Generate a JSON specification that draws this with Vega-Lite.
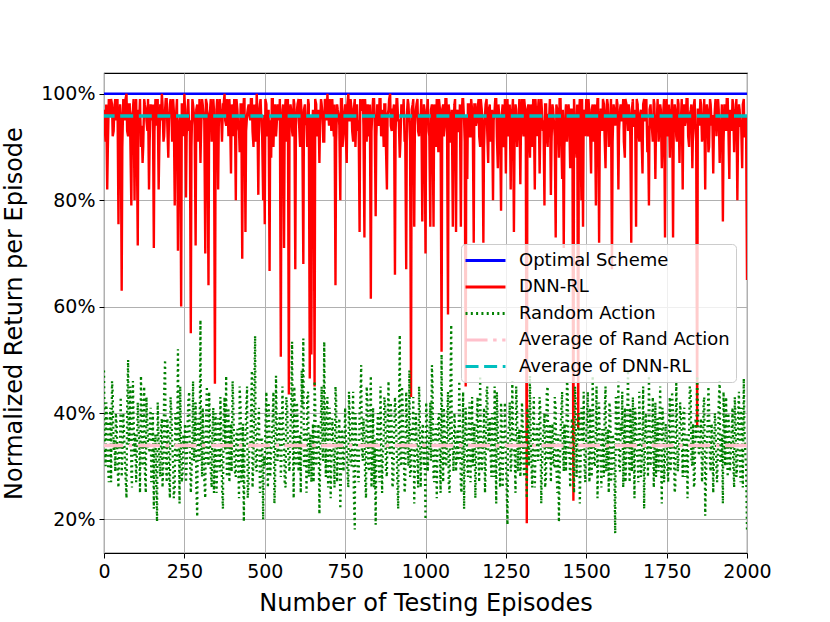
{
  "$schema": "https://vega.github.io/schema/vega-lite/v6.json",
  "width": 643,
  "height": 480,
  "autosize": {"type": "none"},
  "padding": {"left": 104, "top": 73, "right": 83, "bottom": 69},
  "background": "white",
  "datasets": {
    "flat": [
      {"s": "Optimal Scheme", "v": 100},
      {"s": "Average of Rand Action", "v": 33.9},
      {"s": "Average of DNN-RL", "v": 95.8}
    ],
    "curves": [
      {"e":0,"d":97,"r":48},{"e":5,"d":91,"r":30},{"e":10,"d":82,"r":38},{"e":15,"d":99,"r":27},{"e":20,"d":96,"r":41},{"e":25,"d":98,"r":46},{"e":30,"d":93,"r":33},{"e":35,"d":99,"r":29},{"e":40,"d":97,"r":37},{"e":45,"d":75.5,"r":26},
      {"e":50,"d":98,"r":35},{"e":55,"d":63,"r":28},{"e":60,"d":99,"r":40},{"e":65,"d":95,"r":31},{"e":70,"d":100,"r":24},{"e":75,"d":92,"r":50},{"e":80,"d":98,"r":37},{"e":85,"d":79,"r":29},{"e":90,"d":97,"r":46},{"e":95,"d":80,"r":32},
      {"e":100,"d":99,"r":27},{"e":105,"d":71.5,"r":42},{"e":110,"d":96,"r":34},{"e":115,"d":90,"r":47},{"e":120,"d":87,"r":30},{"e":125,"d":99,"r":45},{"e":130,"d":97,"r":25},{"e":135,"d":93,"r":38},{"e":140,"d":82,"r":33},{"e":145,"d":98,"r":41},
      {"e":150,"d":95,"r":29},{"e":155,"d":71,"r":22},{"e":160,"d":99,"r":36},{"e":165,"d":94,"r":19.6},{"e":170,"d":82,"r":35},{"e":175,"d":98,"r":28},{"e":180,"d":100,"r":39},{"e":185,"d":91,"r":31},{"e":190,"d":97,"r":50},{"e":195,"d":99,"r":27},
      {"e":200,"d":88,"r":36},{"e":205,"d":98,"r":24},{"e":210,"d":96,"r":40},{"e":215,"d":99,"r":30},{"e":220,"d":79,"r":26},{"e":225,"d":97,"r":37},{"e":230,"d":70.5,"r":52},{"e":235,"d":95,"r":23},{"e":240,"d":60,"r":34},{"e":245,"d":98,"r":29},
      {"e":250,"d":100,"r":33},{"e":255,"d":80.5,"r":27},{"e":260,"d":97,"r":38},{"e":265,"d":93,"r":44},{"e":270,"d":55,"r":25},{"e":275,"d":99,"r":35},{"e":280,"d":96,"r":31},{"e":285,"d":71.5,"r":42},{"e":290,"d":98,"r":20.5},{"e":295,"d":92,"r":36},
      {"e":300,"d":87,"r":57.5},{"e":305,"d":99,"r":28},{"e":310,"d":96,"r":34},{"e":315,"d":70,"r":24},{"e":320,"d":98,"r":45},{"e":325,"d":64,"r":30},{"e":330,"d":97,"r":37},{"e":335,"d":91,"r":26},{"e":340,"d":99,"r":41},{"e":345,"d":45.5,"r":32},
      {"e":350,"d":97,"r":25},{"e":355,"d":82,"r":39},{"e":360,"d":99,"r":29},{"e":365,"d":95,"r":35},{"e":370,"d":98,"r":22},{"e":375,"d":100,"r":43},{"e":380,"d":94,"r":47},{"e":385,"d":97,"r":31},{"e":390,"d":99,"r":27},{"e":395,"d":85,"r":38},
      {"e":400,"d":96,"r":46},{"e":405,"d":99,"r":33},{"e":410,"d":80,"r":28},{"e":415,"d":97,"r":37},{"e":420,"d":93,"r":24},{"e":425,"d":98,"r":41},{"e":430,"d":69,"r":30},{"e":435,"d":99,"r":19.6},{"e":440,"d":74,"r":36},{"e":445,"d":96,"r":45},
      {"e":450,"d":98,"r":27},{"e":455,"d":95,"r":34},{"e":460,"d":99,"r":48},{"e":465,"d":90,"r":31},{"e":470,"d":97,"r":54.5},{"e":475,"d":100,"r":29},{"e":480,"d":81,"r":38},{"e":485,"d":98,"r":25},{"e":490,"d":94,"r":35},{"e":495,"d":80,"r":20},
      {"e":500,"d":75.5,"r":30},{"e":505,"d":98,"r":44},{"e":510,"d":96,"r":26},{"e":515,"d":66.7,"r":36},{"e":520,"d":88,"r":33},{"e":525,"d":99,"r":40},{"e":530,"d":97,"r":23},{"e":535,"d":92,"r":47},{"e":540,"d":98,"r":31},{"e":545,"d":95,"r":38},
      {"e":550,"d":50.6,"r":28},{"e":555,"d":97,"r":45},{"e":560,"d":71,"r":35},{"e":565,"d":99,"r":26},{"e":570,"d":95,"r":41},{"e":575,"d":43.5,"r":30},{"e":580,"d":98,"r":37},{"e":585,"d":93,"r":53.4},{"e":590,"d":99,"r":24},{"e":595,"d":67,"r":34},
      {"e":600,"d":97,"r":42},{"e":605,"d":99,"r":29},{"e":610,"d":90,"r":36},{"e":615,"d":96,"r":48},{"e":620,"d":68,"r":54},{"e":625,"d":98,"r":31},{"e":630,"d":94,"r":25},{"e":635,"d":99,"r":44},{"e":640,"d":46.5,"r":33},{"e":645,"d":51,"r":27},
      {"e":650,"d":97,"r":38},{"e":655,"d":45,"r":46},{"e":660,"d":98,"r":30},{"e":665,"d":95,"r":35},{"e":670,"d":87,"r":21},{"e":675,"d":99,"r":40},{"e":680,"d":96,"r":32},{"e":685,"d":91,"r":53.4},{"e":690,"d":98,"r":28},{"e":695,"d":100,"r":43},
      {"e":700,"d":94,"r":36},{"e":705,"d":97,"r":24},{"e":710,"d":99,"r":39},{"e":715,"d":92,"r":31},{"e":720,"d":64,"r":45},{"e":725,"d":98,"r":27},{"e":730,"d":96,"r":34},{"e":735,"d":80,"r":22},{"e":740,"d":99,"r":37},{"e":745,"d":93,"r":29},
      {"e":750,"d":98,"r":41},{"e":755,"d":87,"r":33},{"e":760,"d":100,"r":26},{"e":765,"d":95,"r":38},{"e":770,"d":97,"r":30},{"e":775,"d":91,"r":44},{"e":780,"d":99,"r":18.1},{"e":785,"d":96,"r":35},{"e":790,"d":93,"r":28},{"e":795,"d":74,"r":40},
      {"e":800,"d":97,"r":49},{"e":805,"d":99,"r":31},{"e":810,"d":73,"r":36},{"e":815,"d":95,"r":24},{"e":820,"d":98,"r":42},{"e":825,"d":92,"r":29},{"e":830,"d":61.5,"r":47},{"e":835,"d":97,"r":33},{"e":840,"d":99,"r":26},{"e":845,"d":77,"r":19},
      {"e":850,"d":98,"r":37},{"e":855,"d":94,"r":30},{"e":860,"d":99,"r":45},{"e":865,"d":96,"r":25},{"e":870,"d":90,"r":35},{"e":875,"d":98,"r":41},{"e":880,"d":82,"r":28},{"e":885,"d":97,"r":46},{"e":890,"d":100,"r":32},{"e":895,"d":93,"r":38},
      {"e":900,"d":97,"r":27},{"e":905,"d":66,"r":43},{"e":910,"d":99,"r":34},{"e":915,"d":95,"r":22},{"e":920,"d":88,"r":54.7},{"e":925,"d":98,"r":30},{"e":930,"d":96,"r":39},{"e":935,"d":91,"r":25},{"e":940,"d":67,"r":44},{"e":945,"d":99,"r":33},
      {"e":950,"d":94,"r":48},{"e":955,"d":43,"r":29},{"e":960,"d":98,"r":36},{"e":965,"d":75,"r":23},{"e":970,"d":97,"r":40},{"e":975,"d":99,"r":31},{"e":980,"d":92,"r":45},{"e":985,"d":96,"r":26},{"e":990,"d":76,"r":37},{"e":995,"d":98,"r":30},
      {"e":1000,"d":70,"r":20},{"e":1005,"d":97,"r":38},{"e":1010,"d":93,"r":33},{"e":1015,"d":75,"r":42},{"e":1020,"d":98,"r":49},{"e":1025,"d":75,"r":28},{"e":1030,"d":96,"r":35},{"e":1035,"d":99,"r":24},{"e":1040,"d":89,"r":39},{"e":1045,"d":97,"r":31},
      {"e":1050,"d":51.5,"r":51},{"e":1055,"d":98,"r":27},{"e":1060,"d":94,"r":36},{"e":1065,"d":99,"r":30},{"e":1070,"d":58.5,"r":44},{"e":1075,"d":96,"r":25},{"e":1080,"d":91,"r":56.6},{"e":1085,"d":75,"r":33},{"e":1090,"d":98,"r":40},{"e":1095,"d":74,"r":29},
      {"e":1100,"d":97,"r":37},{"e":1105,"d":93,"r":46},{"e":1110,"d":75,"r":26},{"e":1115,"d":99,"r":34},{"e":1120,"d":95,"r":22},{"e":1125,"d":45,"r":41},{"e":1130,"d":84,"r":30},{"e":1135,"d":98,"r":38},{"e":1140,"d":92,"r":27},{"e":1145,"d":97,"r":43},
      {"e":1150,"d":72,"r":35},{"e":1155,"d":98,"r":24},{"e":1160,"d":95,"r":40},{"e":1165,"d":99,"r":31},{"e":1170,"d":90,"r":47},{"e":1175,"d":97,"r":29},{"e":1180,"d":72,"r":36},{"e":1185,"d":96,"r":25},{"e":1190,"d":99,"r":44},{"e":1195,"d":87,"r":33},
      {"e":1200,"d":98,"r":39},{"e":1205,"d":93,"r":28},{"e":1210,"d":80,"r":34},{"e":1215,"d":97,"r":45},{"e":1220,"d":99,"r":23},{"e":1225,"d":86,"r":37},{"e":1230,"d":95,"r":30},{"e":1235,"d":78,"r":42},{"e":1240,"d":98,"r":26},{"e":1245,"d":91,"r":36},
      {"e":1250,"d":85,"r":31},{"e":1255,"d":99,"r":19},{"e":1260,"d":94,"r":38},{"e":1265,"d":82,"r":29},{"e":1270,"d":97,"r":46},{"e":1275,"d":74,"r":33},{"e":1280,"d":98,"r":25},{"e":1285,"d":90,"r":40},{"e":1290,"d":96,"r":35},{"e":1295,"d":83,"r":28},
      {"e":1300,"d":99,"r":42},{"e":1305,"d":92,"r":30},{"e":1310,"d":97,"r":37},{"e":1315,"d":19.3,"r":24},{"e":1320,"d":98,"r":34},{"e":1325,"d":88,"r":47},{"e":1330,"d":96,"r":29},{"e":1335,"d":99,"r":39},{"e":1340,"d":82,"r":26},{"e":1345,"d":95,"r":36},
      {"e":1350,"d":97,"r":31},{"e":1355,"d":85,"r":43},{"e":1360,"d":99,"r":23},{"e":1365,"d":93,"r":35},{"e":1370,"d":79,"r":40},{"e":1375,"d":98,"r":28},{"e":1380,"d":90,"r":45},{"e":1385,"d":96,"r":33},{"e":1390,"d":81,"r":27},{"e":1395,"d":98,"r":38},
      {"e":1400,"d":94,"r":30},{"e":1405,"d":73,"r":41},{"e":1410,"d":97,"r":25},{"e":1415,"d":88,"r":19.5},{"e":1420,"d":99,"r":36},{"e":1425,"d":84,"r":44},{"e":1430,"d":71,"r":29},{"e":1435,"d":96,"r":34},{"e":1440,"d":91,"r":46},{"e":1445,"d":98,"r":32},
      {"e":1450,"d":86,"r":26},{"e":1455,"d":97,"r":39},{"e":1460,"d":23.5,"r":31},{"e":1465,"d":95,"r":45},{"e":1470,"d":88,"r":28},{"e":1475,"d":37,"r":37},{"e":1480,"d":99,"r":23},{"e":1485,"d":80,"r":41},{"e":1490,"d":75,"r":33},{"e":1495,"d":97,"r":29},
      {"e":1500,"d":99,"r":36},{"e":1505,"d":92,"r":44},{"e":1510,"d":96,"r":27},{"e":1515,"d":85,"r":34},{"e":1520,"d":98,"r":47},{"e":1525,"d":94,"r":30},{"e":1530,"d":79,"r":38},{"e":1535,"d":99,"r":24},{"e":1540,"d":72,"r":42},{"e":1545,"d":97,"r":31},
      {"e":1550,"d":93,"r":37},{"e":1555,"d":98,"r":28},{"e":1560,"d":86,"r":45},{"e":1565,"d":99,"r":33},{"e":1570,"d":90,"r":25},{"e":1575,"d":96,"r":40},{"e":1580,"d":67,"r":30},{"e":1585,"d":98,"r":35},{"e":1590,"d":94,"r":17.4},{"e":1595,"d":99,"r":39},
      {"e":1600,"d":82,"r":46},{"e":1605,"d":97,"r":29},{"e":1610,"d":95,"r":36},{"e":1615,"d":99,"r":26},{"e":1620,"d":88,"r":41},{"e":1625,"d":98,"r":32},{"e":1630,"d":93,"r":48},{"e":1635,"d":96,"r":27},{"e":1640,"d":72,"r":35},{"e":1645,"d":99,"r":43},
      {"e":1650,"d":94,"r":24},{"e":1655,"d":75,"r":38},{"e":1660,"d":98,"r":31},{"e":1665,"d":91,"r":44},{"e":1670,"d":97,"r":28},{"e":1675,"d":85,"r":36},{"e":1680,"d":99,"r":22},{"e":1685,"d":95,"r":40},{"e":1690,"d":89,"r":33},{"e":1695,"d":79,"r":47},
      {"e":1700,"d":98,"r":30},{"e":1705,"d":93,"r":37},{"e":1710,"d":99,"r":26},{"e":1715,"d":84,"r":42},{"e":1720,"d":96,"r":34},{"e":1725,"d":91,"r":29},{"e":1730,"d":98,"r":45},{"e":1735,"d":86,"r":23},{"e":1740,"d":97,"r":38},{"e":1745,"d":73,"r":31},
      {"e":1750,"d":99,"r":36},{"e":1755,"d":94,"r":27},{"e":1760,"d":88,"r":43},{"e":1765,"d":97,"r":32},{"e":1770,"d":73,"r":40},{"e":1775,"d":98,"r":25},{"e":1780,"d":92,"r":46},{"e":1785,"d":99,"r":29},{"e":1790,"d":87,"r":35},{"e":1795,"d":96,"r":39},
      {"e":1800,"d":82,"r":28},{"e":1805,"d":98,"r":41},{"e":1810,"d":95,"r":33},{"e":1815,"d":99,"r":24},{"e":1820,"d":90,"r":37},{"e":1825,"d":97,"r":44},{"e":1830,"d":86,"r":30},{"e":1835,"d":98,"r":26},{"e":1840,"d":93,"r":39},{"e":1845,"d":37.3,"r":47},
      {"e":1850,"d":97,"r":32},{"e":1855,"d":99,"r":36},{"e":1860,"d":91,"r":27},{"e":1865,"d":96,"r":42},{"e":1870,"d":82,"r":20.7},{"e":1875,"d":98,"r":35},{"e":1880,"d":89,"r":45},{"e":1885,"d":99,"r":30},{"e":1890,"d":94,"r":38},{"e":1895,"d":85,"r":25},
      {"e":1900,"d":97,"r":40},{"e":1905,"d":92,"r":29},{"e":1910,"d":99,"r":34},{"e":1915,"d":87,"r":46},{"e":1920,"d":95,"r":31},{"e":1925,"d":76,"r":23},{"e":1930,"d":98,"r":37},{"e":1935,"d":93,"r":43},{"e":1940,"d":99,"r":28},{"e":1945,"d":84,"r":36},
      {"e":1950,"d":96,"r":33},{"e":1955,"d":99,"r":41},{"e":1960,"d":89,"r":26},{"e":1965,"d":97,"r":38},{"e":1970,"d":80,"r":30},{"e":1975,"d":98,"r":44},{"e":1980,"d":94,"r":27},{"e":1985,"d":86,"r":35},{"e":1990,"d":99,"r":46.5},{"e":1995,"d":92,"r":32},
      {"e":2000,"d":65,"r":18},
      {"e":2,"d":94,"r":36},{"e":7,"d":98,"r":42},{"e":12,"d":90,"r":31},{"e":17,"d":96,"r":38},{"e":22,"d":99,"r":27},{"e":27,"d":92,"r":44},{"e":32,"d":97,"r":35},{"e":37,"d":95,"r":40},{"e":42,"d":99,"r":30},{"e":47,"d":93,"r":33},
      {"e":52,"d":96,"r":43},{"e":57,"d":90,"r":32},{"e":62,"d":97,"r":37},{"e":67,"d":99,"r":28},{"e":72,"d":93,"r":41},{"e":77,"d":98,"r":34},{"e":82,"d":91,"r":45},{"e":87,"d":96,"r":26},{"e":92,"d":99,"r":39},{"e":97,"d":94,"r":36},
      {"e":102,"d":92,"r":31},{"e":107,"d":97,"r":38},{"e":112,"d":99,"r":25},{"e":117,"d":94,"r":40},{"e":122,"d":90,"r":36},{"e":127,"d":98,"r":29},{"e":132,"d":95,"r":43},{"e":137,"d":99,"r":33},{"e":142,"d":91,"r":37},{"e":147,"d":96,"r":27},
      {"e":152,"d":98,"r":40},{"e":157,"d":93,"r":34},{"e":162,"d":96,"r":28},{"e":167,"d":99,"r":42},{"e":172,"d":90,"r":31},{"e":177,"d":95,"r":37},{"e":182,"d":98,"r":26},{"e":187,"d":92,"r":44},{"e":192,"d":99,"r":33},{"e":197,"d":94,"r":39},
      {"e":202,"d":95,"r":29},{"e":207,"d":99,"r":43},{"e":212,"d":91,"r":35},{"e":217,"d":97,"r":24},{"e":222,"d":93,"r":40},{"e":227,"d":99,"r":31},{"e":232,"d":88,"r":38},{"e":237,"d":96,"r":45},{"e":242,"d":98,"r":27},{"e":247,"d":92,"r":36},
      {"e":252,"d":97,"r":38},{"e":257,"d":92,"r":30},{"e":262,"d":99,"r":42},{"e":267,"d":95,"r":33},{"e":272,"d":90,"r":28},{"e":277,"d":98,"r":46},{"e":282,"d":94,"r":34},{"e":287,"d":97,"r":26},{"e":292,"d":91,"r":39},{"e":297,"d":99,"r":31},
      {"e":302,"d":93,"r":35},{"e":307,"d":98,"r":41},{"e":312,"d":95,"r":27},{"e":317,"d":99,"r":38},{"e":322,"d":91,"r":32},{"e":327,"d":96,"r":44},{"e":332,"d":99,"r":29},{"e":337,"d":93,"r":36},{"e":342,"d":97,"r":25},{"e":347,"d":90,"r":40},
      {"e":352,"d":99,"r":30},{"e":357,"d":94,"r":37},{"e":362,"d":97,"r":43},{"e":367,"d":91,"r":26},{"e":372,"d":98,"r":39},{"e":377,"d":95,"r":33},{"e":382,"d":99,"r":28},{"e":387,"d":92,"r":41},{"e":392,"d":96,"r":35},{"e":397,"d":98,"r":29},
      {"e":402,"d":92,"r":42},{"e":407,"d":97,"r":29},{"e":412,"d":99,"r":36},{"e":417,"d":94,"r":31},{"e":422,"d":89,"r":45},{"e":427,"d":98,"r":27},{"e":432,"d":95,"r":38},{"e":437,"d":99,"r":33},{"e":442,"d":93,"r":40},{"e":447,"d":97,"r":24},
      {"e":452,"d":96,"r":34},{"e":457,"d":99,"r":39},{"e":462,"d":93,"r":26},{"e":467,"d":98,"r":43},{"e":472,"d":91,"r":30},{"e":477,"d":97,"r":37},{"e":482,"d":95,"r":41},{"e":487,"d":99,"r":28},{"e":492,"d":92,"r":35},{"e":497,"d":96,"r":32},
      {"e":502,"d":99,"r":37},{"e":507,"d":92,"r":31},{"e":512,"d":97,"r":42},{"e":517,"d":95,"r":28},{"e":522,"d":99,"r":35},{"e":527,"d":90,"r":44},{"e":532,"d":98,"r":26},{"e":537,"d":94,"r":39},{"e":542,"d":97,"r":33},{"e":547,"d":99,"r":40},
      {"e":552,"d":93,"r":31},{"e":557,"d":98,"r":38},{"e":562,"d":96,"r":27},{"e":567,"d":91,"r":43},{"e":572,"d":99,"r":34},{"e":577,"d":95,"r":29},{"e":582,"d":97,"r":40},{"e":587,"d":92,"r":36},{"e":592,"d":98,"r":45},{"e":597,"d":94,"r":30},
      {"e":602,"d":98,"r":39},{"e":607,"d":94,"r":33},{"e":612,"d":99,"r":25},{"e":617,"d":92,"r":41},{"e":622,"d":97,"r":30},{"e":627,"d":95,"r":37},{"e":632,"d":90,"r":43},{"e":637,"d":98,"r":28},{"e":642,"d":96,"r":36},{"e":647,"d":93,"r":32},
      {"e":652,"d":95,"r":27},{"e":657,"d":99,"r":42},{"e":662,"d":92,"r":34},{"e":667,"d":97,"r":38},{"e":672,"d":94,"r":29},{"e":677,"d":98,"r":45},{"e":682,"d":91,"r":31},{"e":687,"d":99,"r":36},{"e":692,"d":95,"r":40},{"e":697,"d":97,"r":26},
      {"e":702,"d":99,"r":41},{"e":707,"d":93,"r":30},{"e":712,"d":96,"r":37},{"e":717,"d":98,"r":26},{"e":722,"d":91,"r":43},{"e":727,"d":97,"r":33},{"e":732,"d":94,"r":39},{"e":737,"d":99,"r":28},{"e":742,"d":90,"r":35},{"e":747,"d":96,"r":32},
      {"e":752,"d":92,"r":36},{"e":757,"d":98,"r":29},{"e":762,"d":95,"r":44},{"e":767,"d":99,"r":31},{"e":772,"d":93,"r":38},{"e":777,"d":97,"r":25},{"e":782,"d":90,"r":40},{"e":787,"d":98,"r":34},{"e":792,"d":95,"r":27},{"e":797,"d":99,"r":42},
      {"e":802,"d":97,"r":33},{"e":807,"d":94,"r":39},{"e":812,"d":99,"r":28},{"e":817,"d":91,"r":45},{"e":822,"d":96,"r":30},{"e":827,"d":98,"r":37},{"e":832,"d":93,"r":26},{"e":837,"d":99,"r":41},{"e":842,"d":95,"r":35},{"e":847,"d":92,"r":31},
      {"e":852,"d":95,"r":40},{"e":857,"d":99,"r":27},{"e":862,"d":92,"r":36},{"e":867,"d":97,"r":32},{"e":872,"d":98,"r":43},{"e":877,"d":90,"r":29},{"e":882,"d":96,"r":38},{"e":887,"d":99,"r":34},{"e":892,"d":94,"r":42},{"e":897,"d":97,"r":26},
      {"e":902,"d":98,"r":35},{"e":907,"d":93,"r":41},{"e":912,"d":99,"r":28},{"e":917,"d":95,"r":38},{"e":922,"d":91,"r":31},{"e":927,"d":97,"r":45},{"e":932,"d":99,"r":33},{"e":937,"d":92,"r":27},{"e":942,"d":96,"r":39},{"e":947,"d":98,"r":30},
      {"e":952,"d":91,"r":28},{"e":957,"d":97,"r":37},{"e":962,"d":99,"r":43},{"e":967,"d":94,"r":30},{"e":972,"d":98,"r":35},{"e":977,"d":93,"r":26},{"e":982,"d":96,"r":41},{"e":987,"d":99,"r":32},{"e":992,"d":90,"r":38},{"e":997,"d":97,"r":34},
      {"e":1002,"d":95,"r":42},{"e":1007,"d":99,"r":29},{"e":1012,"d":92,"r":36},{"e":1017,"d":97,"r":31},{"e":1022,"d":94,"r":45},{"e":1027,"d":98,"r":27},{"e":1032,"d":90,"r":38},{"e":1037,"d":96,"r":33},{"e":1042,"d":99,"r":40},{"e":1047,"d":93,"r":25},
      {"e":1052,"d":97,"r":36},{"e":1057,"d":92,"r":41},{"e":1062,"d":99,"r":30},{"e":1067,"d":95,"r":38},{"e":1072,"d":98,"r":27},{"e":1077,"d":91,"r":43},{"e":1082,"d":97,"r":34},{"e":1087,"d":94,"r":29},{"e":1092,"d":99,"r":37},{"e":1097,"d":96,"r":32},
      {"e":1102,"d":93,"r":31},{"e":1107,"d":98,"r":39},{"e":1112,"d":95,"r":25},{"e":1117,"d":99,"r":44},{"e":1122,"d":91,"r":33},{"e":1127,"d":96,"r":37},{"e":1132,"d":98,"r":28},{"e":1137,"d":92,"r":42},{"e":1142,"d":99,"r":35},{"e":1147,"d":95,"r":30},
      {"e":1152,"d":98,"r":38},{"e":1157,"d":94,"r":30},{"e":1162,"d":97,"r":43},{"e":1167,"d":92,"r":27},{"e":1172,"d":99,"r":36},{"e":1177,"d":95,"r":32},{"e":1182,"d":90,"r":41},{"e":1187,"d":98,"r":29},{"e":1192,"d":93,"r":45},{"e":1197,"d":97,"r":34},
      {"e":1202,"d":91,"r":33},{"e":1207,"d":97,"r":40},{"e":1212,"d":95,"r":28},{"e":1217,"d":99,"r":37},{"e":1222,"d":92,"r":44},{"e":1227,"d":98,"r":31},{"e":1232,"d":94,"r":26},{"e":1237,"d":96,"r":39},{"e":1242,"d":90,"r":35},{"e":1247,"d":99,"r":42},
      {"e":1252,"d":96,"r":27},{"e":1257,"d":92,"r":36},{"e":1262,"d":98,"r":42},{"e":1267,"d":95,"r":30},{"e":1272,"d":99,"r":38},{"e":1277,"d":91,"r":33},{"e":1282,"d":97,"r":45},{"e":1287,"d":93,"r":29},{"e":1292,"d":99,"r":37},{"e":1297,"d":94,"r":31},
      {"e":1302,"d":94,"r":39},{"e":1307,"d":99,"r":28},{"e":1312,"d":91,"r":35},{"e":1317,"d":97,"r":41},{"e":1322,"d":93,"r":30},{"e":1327,"d":98,"r":37},{"e":1332,"d":90,"r":26},{"e":1337,"d":96,"r":43},{"e":1342,"d":99,"r":32},{"e":1347,"d":92,"r":38},
      {"e":1352,"d":99,"r":34},{"e":1357,"d":93,"r":41},{"e":1362,"d":97,"r":29},{"e":1367,"d":95,"r":37},{"e":1372,"d":98,"r":26},{"e":1377,"d":92,"r":44},{"e":1382,"d":96,"r":31},{"e":1387,"d":99,"r":38},{"e":1392,"d":91,"r":35},{"e":1397,"d":97,"r":30},
      {"e":1402,"d":92,"r":43},{"e":1407,"d":98,"r":30},{"e":1412,"d":95,"r":36},{"e":1417,"d":99,"r":27},{"e":1422,"d":93,"r":40},{"e":1427,"d":97,"r":33},{"e":1432,"d":90,"r":38},{"e":1437,"d":98,"r":29},{"e":1442,"d":94,"r":45},{"e":1447,"d":96,"r":35},
      {"e":1452,"d":97,"r":31},{"e":1457,"d":94,"r":38},{"e":1462,"d":99,"r":25},{"e":1467,"d":91,"r":42},{"e":1472,"d":98,"r":34},{"e":1477,"d":95,"r":40},{"e":1482,"d":93,"r":29},{"e":1487,"d":99,"r":36},{"e":1492,"d":96,"r":44},{"e":1497,"d":92,"r":27},
      {"e":1502,"d":95,"r":39},{"e":1507,"d":99,"r":33},{"e":1512,"d":93,"r":41},{"e":1517,"d":97,"r":28},{"e":1522,"d":91,"r":37},{"e":1527,"d":98,"r":30},{"e":1532,"d":95,"r":45},{"e":1537,"d":99,"r":32},{"e":1542,"d":92,"r":36},{"e":1547,"d":97,"r":26},
      {"e":1552,"d":99,"r":34},{"e":1557,"d":92,"r":40},{"e":1562,"d":96,"r":29},{"e":1567,"d":98,"r":37},{"e":1572,"d":94,"r":42},{"e":1577,"d":99,"r":27},{"e":1582,"d":91,"r":36},{"e":1587,"d":97,"r":31},{"e":1592,"d":95,"r":43},{"e":1597,"d":98,"r":33},
      {"e":1602,"d":93,"r":30},{"e":1607,"d":98,"r":38},{"e":1612,"d":95,"r":44},{"e":1617,"d":91,"r":32},{"e":1622,"d":99,"r":27},{"e":1627,"d":96,"r":39},{"e":1632,"d":98,"r":35},{"e":1637,"d":92,"r":41},{"e":1642,"d":97,"r":29},{"e":1647,"d":94,"r":37},
      {"e":1652,"d":97,"r":41},{"e":1657,"d":99,"r":33},{"e":1662,"d":93,"r":27},{"e":1667,"d":96,"r":38},{"e":1672,"d":92,"r":30},{"e":1677,"d":98,"r":45},{"e":1682,"d":95,"r":32},{"e":1687,"d":99,"r":36},{"e":1692,"d":94,"r":28},{"e":1697,"d":97,"r":39},
      {"e":1702,"d":95,"r":35},{"e":1707,"d":91,"r":43},{"e":1712,"d":98,"r":31},{"e":1717,"d":94,"r":28},{"e":1722,"d":99,"r":39},{"e":1727,"d":93,"r":36},{"e":1732,"d":97,"r":33},{"e":1737,"d":92,"r":41},{"e":1742,"d":99,"r":27},{"e":1747,"d":96,"r":38},
      {"e":1752,"d":92,"r":30},{"e":1757,"d":98,"r":37},{"e":1762,"d":95,"r":29},{"e":1767,"d":99,"r":44},{"e":1772,"d":93,"r":34},{"e":1777,"d":97,"r":26},{"e":1782,"d":91,"r":39},{"e":1787,"d":98,"r":32},{"e":1792,"d":95,"r":42},{"e":1797,"d":99,"r":36},
      {"e":1802,"d":97,"r":40},{"e":1807,"d":94,"r":28},{"e":1812,"d":99,"r":36},{"e":1817,"d":92,"r":33},{"e":1822,"d":96,"r":45},{"e":1827,"d":98,"r":31},{"e":1832,"d":93,"r":38},{"e":1837,"d":99,"r":27},{"e":1842,"d":91,"r":35},{"e":1847,"d":97,"r":42},
      {"e":1852,"d":94,"r":33},{"e":1857,"d":98,"r":39},{"e":1862,"d":92,"r":30},{"e":1867,"d":99,"r":43},{"e":1872,"d":95,"r":26},{"e":1877,"d":97,"r":37},{"e":1882,"d":90,"r":41},{"e":1887,"d":98,"r":29},{"e":1892,"d":96,"r":36},{"e":1897,"d":93,"r":32},
      {"e":1902,"d":99,"r":38},{"e":1907,"d":95,"r":27},{"e":1912,"d":97,"r":42},{"e":1917,"d":93,"r":31},{"e":1922,"d":98,"r":36},{"e":1927,"d":91,"r":44},{"e":1932,"d":96,"r":30},{"e":1937,"d":99,"r":35},{"e":1942,"d":94,"r":40},{"e":1947,"d":97,"r":29},
      {"e":1952,"d":93,"r":36},{"e":1957,"d":98,"r":31},{"e":1962,"d":95,"r":43},{"e":1967,"d":99,"r":28},{"e":1972,"d":91,"r":39},{"e":1977,"d":97,"r":34},{"e":1982,"d":94,"r":41},{"e":1987,"d":98,"r":26},{"e":1992,"d":92,"r":37},{"e":1997,"d":96,"r":30}
    ]
  },
  "layer": [
    {
      "data": {"name": "flat"},
      "transform": [{"filter": "datum.s == 'Optimal Scheme'"}],
      "mark": {"type": "rule", "strokeWidth": 2.5},
      "encoding": {
        "y": {"field": "v", "type": "quantitative", "scale": {"domain": [13.7, 103.9], "nice": false, "zero": false}, "axis": {"values": [20, 40, 60, 80, 100], "labelExpr": "datum.value + '%'", "title": "Normalized Return per Episode", "titleX": -82.5, "titleY": 240, "titleAngle": -90, "titleAlign": "center", "titleBaseline": "alphabetic"}},
        "color": {"field": "s", "type": "nominal", "scale": {"domain": ["Optimal Scheme", "DNN-RL", "Random Action", "Average of Rand Action", "Average of DNN-RL"], "range": ["#0000ff", "#ff0000", "#008000", "#ffc0cb", "#00bfbf"]}, "legend": {"title": null, "orient": "none", "legendX": 357, "legendY": 171}},
        "strokeDash": {"field": "s", "type": "nominal", "scale": {"domain": ["Optimal Scheme", "DNN-RL", "Random Action", "Average of Rand Action", "Average of DNN-RL"], "range": [[1, 0], [1, 0], [2, 3.3], [22, 5.6, 3.5, 5.6], [13, 5.6]]}, "legend": {"title": null, "orient": "none", "legendX": 357, "legendY": 171}}
      }
    },
    {
      "data": {"name": "curves"},
      "mark": {"type": "line", "strokeWidth": 2.4, "clip": true},
      "encoding": {
        "x": {"field": "e", "type": "quantitative", "scale": {"domain": [0, 2000], "nice": false, "zero": false}, "axis": {"values": [0, 250, 500, 750, 1000, 1250, 1500, 1750, 2000], "format": "d", "title": "Number of Testing Episodes", "titleX": 321.5, "titleY": 57.7, "titleAlign": "center", "titleBaseline": "alphabetic", "labelFlush": false}},
        "y": {"field": "d", "type": "quantitative"},
        "color": {"datum": "DNN-RL", "type": "nominal"},
        "strokeDash": {"datum": "DNN-RL", "type": "nominal"}
      }
    },
    {
      "data": {"name": "curves"},
      "mark": {"type": "line", "strokeWidth": 2.3, "clip": true},
      "encoding": {
        "x": {"field": "e", "type": "quantitative"},
        "y": {"field": "r", "type": "quantitative"},
        "color": {"datum": "Random Action", "type": "nominal"},
        "strokeDash": {"datum": "Random Action", "type": "nominal"}
      }
    },
    {
      "data": {"name": "flat"},
      "transform": [{"filter": "datum.s != 'Optimal Scheme'"}],
      "mark": {"type": "rule", "strokeWidth": 3.5},
      "encoding": {
        "y": {"field": "v", "type": "quantitative"},
        "color": {"field": "s", "type": "nominal"},
        "strokeDash": {"field": "s", "type": "nominal"}
      }
    }
  ],
  "config": {
    "view": {"stroke": "black", "strokeWidth": 1.1},
    "axis": {
      "labelFont": "DejaVu Sans",
      "labelFontSize": 19,
      "labelColor": "black",
      "labelPadding": 4,
      "titleFont": "DejaVu Sans",
      "titleFontSize": 24,
      "titleFontWeight": "normal",
      "titleColor": "black",
      "tickColor": "black",
      "tickSize": 5,
      "tickWidth": 1,
      "gridColor": "#b0b0b0",
      "gridWidth": 1,
      "domain": false
    },
    "legend": {
      "fillColor": "rgba(255,255,255,0.8)",
      "strokeColor": "#cccccc",
      "cornerRadius": 4,
      "padding": 6,
      "symbolType": "M-2.22,0H2.22",
      "symbolSize": 324,
      "symbolStrokeWidth": 3,
      "symbolOffset": 8,
      "labelFont": "DejaVu Sans",
      "labelFontSize": 18,
      "labelColor": "black",
      "labelOffset": 23,
      "labelLimit": 0,
      "rowPadding": 6.5
    }
  }
}
